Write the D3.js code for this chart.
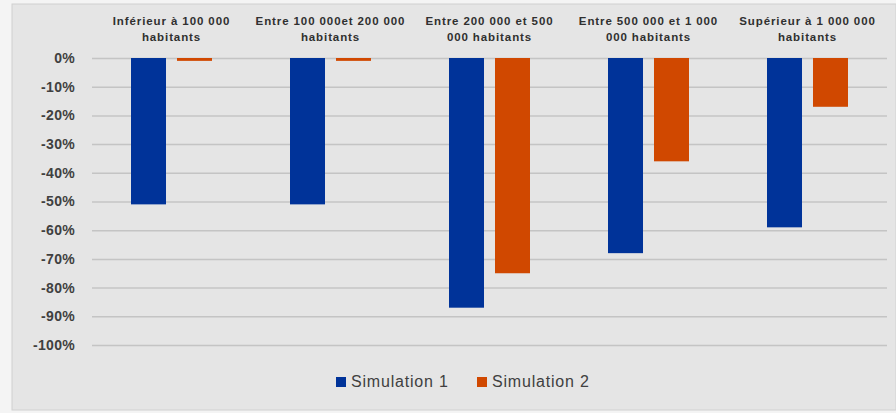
<!DOCTYPE html>
<html><head><meta charset="utf-8">
<script src="https://cdn.jsdelivr.net/npm/d3@7"></script>
<style>body{margin:0;background:#f4f4f4;}svg{display:block;}</style>
</head><body>
<svg id="chart" width="896" height="413"></svg>
<script>
const categories = [
  ["Inférieur à 100 000", "habitants"],
  ["Entre 100 000et 200 000", "habitants"],
  ["Entre 200 000 et 500", "000 habitants"],
  ["Entre 500 000 et 1 000", "000 habitants"],
  ["Supérieur à 1 000 000", "habitants"]
];
const seriesNames = ["Simulation 1", "Simulation 2"];
const simulation1 = [-0.51, -0.51, -0.87, -0.68, -0.59];
const simulation2 = [-0.01, -0.01, -0.75, -0.36, -0.17];
const yTicks = [0, -0.1, -0.2, -0.3, -0.4, -0.5, -0.6, -0.7, -0.8, -0.9, -1.0];
const colors = ["#003399", "#d04800"];

(function () {
const svg = d3.select("#chart");
svg.append("rect").attr("x", 12).attr("y", 4).attr("width", 884).attr("height", 406)
  .attr("fill", "#e5e5e5").attr("stroke", "#d0d0d0");

const pl = 92, pr = 887, pt = 58, pb = 345;
const x0 = d3.scaleBand().domain(d3.range(categories.length)).range([pl, pr]);
const x1 = d3.scaleBand().domain([0, 1]).range([0, x0.bandwidth()]).paddingInner(0.239).paddingOuter(0.848);
const y = d3.scaleLinear().domain([-1, 0]).range([pb, pt]);

const fmt = d => Math.round(d * 100) + "%";
const yAxis = d3.axisLeft(y).tickValues(yTicks).tickFormat(fmt).tickSize(-(pr - pl)).tickPadding(17);
const ga = svg.append("g").attr("transform", `translate(${pl},0)`).call(yAxis);
ga.select(".domain").remove();
ga.selectAll(".tick line").attr("stroke", "#c4c4c4").attr("stroke-width", 1.5);
ga.selectAll(".tick text").attr("fill", "#404040").attr("font-family", "Liberation Sans, Arial, sans-serif")
  .attr("font-size", 14).attr("font-weight", "bold").attr("letter-spacing", 0.3);

const data = categories.map((c, i) => [simulation1[i], simulation2[i]]);
const g = svg.append("g");
data.forEach((vals, i) => {
  vals.forEach((v, s) => {
    g.append("rect")
      .attr("x", x0(i) + x1(s))
      .attr("width", x1.bandwidth())
      .attr("y", y(0))
      .attr("height", Math.max(y(v) - y(0), 2))
      .attr("fill", colors[s]);
  });
});

categories.forEach((lines, i) => {
  const t = svg.append("text").attr("text-anchor", "middle")
    .attr("font-family", "Liberation Sans, Arial, sans-serif").attr("font-size", 11.5)
    .attr("font-weight", "bold").attr("fill", "#303030").attr("letter-spacing", 0.9);
  lines.forEach((l, k) => {
    t.append("tspan").attr("x", x0(i) + x0.bandwidth() / 2).attr("y", 25 + k * 16).text(l);
  });
});

const legendX = [336, 477];
seriesNames.forEach((n, s) => {
  svg.append("rect").attr("x", legendX[s]).attr("y", 377).attr("width", 10).attr("height", 10).attr("fill", colors[s]);
  svg.append("text").attr("x", legendX[s] + 15).attr("y", 387)
    .attr("font-family", "Liberation Sans, Arial, sans-serif").attr("font-size", 16)
    .attr("fill", "#404040").attr("letter-spacing", 0.8).text(n);
});
})();
</script>
</body></html>
